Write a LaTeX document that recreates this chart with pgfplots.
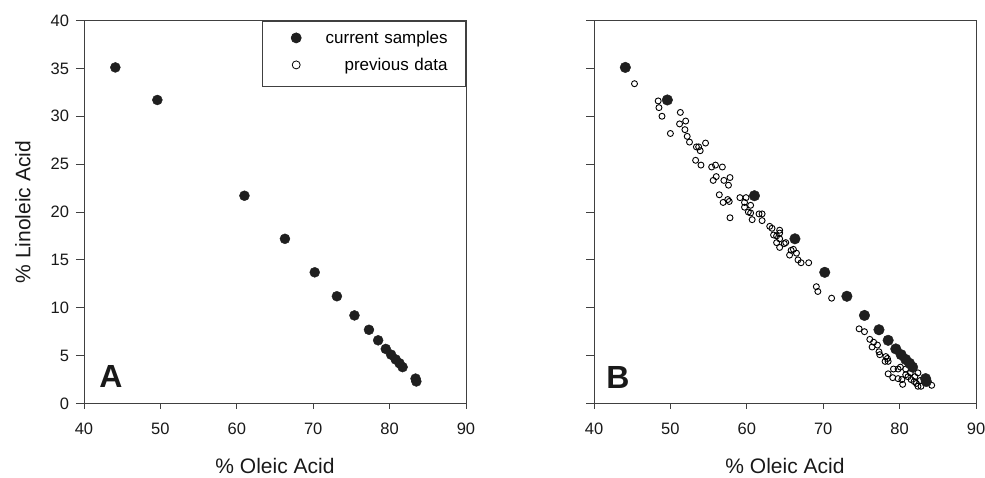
\documentclass[border=0pt]{standalone}
\usepackage{fontspec}
\setmainfont{Liberation Sans}
\usepackage{pgfplots}
\usepackage{pgfplotstable}
\pgfplotsset{compat=1.18}

\pgfplotstableread{
x y
44.1 35.1
49.6 31.7
61.0 21.7
66.3 17.2
70.2 13.7
73.1 11.2
75.4 9.2
77.3 7.7
78.5 6.6
79.5 5.7
80.2 5.1
80.8 4.6
81.3 4.2
81.7 3.8
83.4 2.6
83.5 2.3
}\current

\pgfplotstableread{
x y
45.3 33.4
48.4 31.6
48.5 30.9
48.9 30.0
50.0 28.2
51.3 30.4
52.0 29.5
51.2 29.2
51.9 28.6
52.2 27.9
52.5 27.3
53.4 26.8
53.7 26.8
53.9 26.4
54.6 27.2
53.3 25.4
54.0 24.9
55.4 24.7
55.9 24.9
56.8 24.7
55.6 23.3
56.0 23.7
57.0 23.3
57.6 22.8
57.8 23.6
56.4 21.8
56.9 21.0
57.5 21.3
57.7 21.1
57.8 19.4
59.1 21.5
59.9 21.5
59.7 21.0
59.7 20.5
60.5 20.7
60.2 20.0
60.5 19.9
60.7 19.2
61.6 19.8
62.0 19.8
62.0 19.1
63.0 18.5
63.3 18.3
64.3 18.1
64.3 17.8
63.5 17.6
63.9 17.5
64.3 17.2
64.9 16.7
63.9 16.8
64.3 16.3
65.1 16.8
65.8 16.0
66.1 16.1
66.5 15.7
65.6 15.5
66.7 15.0
67.1 14.7
68.1 14.7
69.1 12.2
69.3 11.7
71.1 11.0
74.7 7.8
75.4 7.5
76.1 6.7
76.6 6.4
76.4 5.9
77.1 6.1
77.3 5.4
77.4 5.1
78.2 4.9
78.4 4.7
78.1 4.4
78.5 4.4
78.5 3.1
79.2 3.6
79.8 3.6
80.1 3.8
79.1 2.7
79.8 2.6
80.3 2.5
80.4 2.0
80.8 3.0
81.1 2.8
81.5 2.5
81.9 2.3
82.0 2.8
82.2 2.1
82.4 1.8
82.7 2.4
82.4 3.2
82.8 1.8
84.2 1.9
80.8 3.6
81.4 3.2
}\previous

\definecolor{axcol}{gray}{0.25}
\definecolor{dotcol}{gray}{0.12}

\pgfplotsset{
  panel/.style={
    scale only axis, width=382pt, height=383pt,
    xmin=40, xmax=90, ymin=0, ymax=40,
    xtick={40,50,...,90}, ytick={0,5,...,40},
    tick align=outside, tick pos=left, major tick length=8pt,
    xtick style={/pgfplots/major tick length=5pt},
    axis line style={axcol, line width=0.8pt},
    tick style={axcol, line width=0.8pt},
    tick label style={font=\fontsize{16.5}{16.5}\selectfont, text=black!90},
    xticklabel style={yshift=-8pt},
    yticklabel style={xshift=-3.5pt},
    /pgf/number format/assume math mode=true,
    label style={font=\fontsize{21}{21}\selectfont, text=black!90},
    xlabel={\% Oleic Acid},
    xlabel style={at={(axis description cs:0.5,-0.183)}, anchor=base, inner sep=0pt},
    clip=false,
  },
  cur/.style={only marks, mark=*, mark size=5.3pt, draw=dotcol, fill=dotcol},
  prev/.style={only marks, mark=o, mark size=3pt, mark options={draw=black, line width=0.9pt, fill=white}},
}

\begin{document}
\begin{tikzpicture}
\useasboundingbox (0,0) rectangle (985pt,477pt);

\begin{axis}[panel, at={(84pt,73.5pt)}, anchor=south west,
  ylabel={\% Linoleic Acid},
  ylabel style={at={(axis description cs:-0.16,0.5)}, anchor=center},
  legend style={at={(1,1)}, anchor=north east, draw=axcol, line width=0.8pt,
    inner xsep=18pt, inner ysep=11pt, row sep=11pt, column sep=11pt,
    font=\fontsize{17}{17}\selectfont,
    nodes={text width=125pt, align=right, inner sep=0pt, text height=12pt, text depth=4pt}},
  legend image code/.code={\draw[#1] plot coordinates {(0pt,2pt)}; \path (-15pt,0pt) (15pt,0pt);},
]
\addplot[cur, mark size=5pt] table[x=x,y=y]{\current};
\addlegendentry{current samples}
\addlegendimage{only marks, mark=o, mark size=4pt, mark options={draw=black, line width=0.8pt, fill=white}}
\addlegendentry{previous data}
\node[anchor=base west, inner sep=0pt, font=\fontsize{32}{32}\selectfont\bfseries, text=black!90] at (axis cs:42,1.67) {A};
\end{axis}

\begin{axis}[panel, at={(594pt,73.5pt)}, anchor=south west,
  yticklabels={}]
\addplot[prev] table[x=x,y=y]{\previous};
\addplot[cur] table[x=x,y=y]{\current};
\node[anchor=base west, inner sep=0pt, font=\fontsize{32}{32}\selectfont\bfseries, text=black!90] at (axis cs:41.6,1.57) {B};
\end{axis}
\end{tikzpicture}
\end{document}
